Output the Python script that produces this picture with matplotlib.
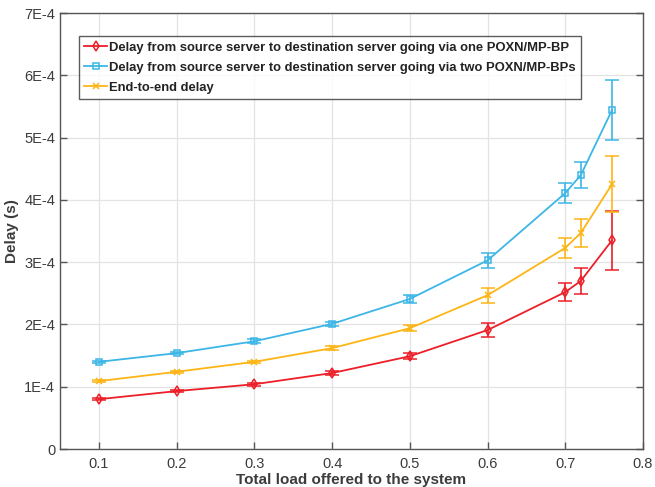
import matplotlib
matplotlib.use("Agg")
import matplotlib.pyplot as plt
from matplotlib.lines import Line2D
from matplotlib.ticker import FuncFormatter

plt.rcParams["font.family"] = ["Liberation Sans", "DejaVu Sans"]

# offered load and measured delays (seconds)
load = [0.1, 0.2, 0.3, 0.4, 0.5, 0.6, 0.7, 0.72, 0.76]

delay_one = [0.80e-4, 0.93e-4, 1.04e-4, 1.22e-4, 1.49e-4, 1.91e-4, 2.52e-4, 2.70e-4, 3.35e-4]
err_one = [0.02e-4, 0.02e-4, 0.02e-4, 0.03e-4, 0.05e-4, 0.11e-4, 0.15e-4, 0.21e-4, 0.47e-4]

delay_two = [1.40e-4, 1.54e-4, 1.73e-4, 2.01e-4, 2.41e-4, 3.03e-4, 4.11e-4, 4.40e-4, 5.44e-4]
err_two = [0.02e-4, 0.02e-4, 0.03e-4, 0.03e-4, 0.06e-4, 0.12e-4, 0.16e-4, 0.21e-4, 0.48e-4]

delay_e2e = [1.09e-4, 1.24e-4, 1.40e-4, 1.62e-4, 1.94e-4, 2.47e-4, 3.23e-4, 3.47e-4, 4.25e-4]
err_e2e = [0.02e-4, 0.02e-4, 0.02e-4, 0.03e-4, 0.05e-4, 0.12e-4, 0.16e-4, 0.22e-4, 0.45e-4]

labels = [
    "Delay from source server to destination server going via one POXN/MP-BP",
    "Delay from source server to destination server going via two POXN/MP-BPs",
    "End-to-end delay",
]

RED = "#EC1F28"
BLUE = "#3CB6E6"
YELLOW = "#FDB515"

fig = plt.figure(figsize=(6.55, 4.87), dpi=100)
ax = fig.add_axes([0.0916, 0.078, 0.8901, 0.895])

series = [
    (delay_one, err_one, RED, "d", labels[0]),
    (delay_two, err_two, BLUE, "s", labels[1]),
    (delay_e2e, err_e2e, YELLOW, "x", labels[2]),
]
handles = []
for y, e, c, m, lab in series:
    ax.errorbar(load, y, yerr=e, color=c, lw=1.3, marker=m, markersize=5,
                markerfacecolor="none", markeredgecolor=c, markeredgewidth=1.1,
                capsize=5, elinewidth=1.2, capthick=1.2)
    handles.append(Line2D([], [], color=c, lw=1.3, marker=m, markersize=5,
                          markerfacecolor="none", markeredgewidth=1.1, label=lab))

ax.set_xlim(0.05, 0.8)
ax.set_ylim(0, 7e-4)
ax.set_xticks([0.1, 0.2, 0.3, 0.4, 0.5, 0.6, 0.7, 0.8])
ax.set_yticks([i * 1e-4 for i in range(8)])
ax.yaxis.set_major_formatter(FuncFormatter(lambda v, p: "0" if v == 0 else f"{round(v * 1e4)}E-4"))

ax.grid(True, color="#e3e3e3", lw=0.9)
ax.set_axisbelow(True)
for s in ax.spines.values():
    s.set_color("#555555")
    s.set_linewidth(1.0)
ax.tick_params(direction="in", length=5, width=1.0, color="#555555",
               labelcolor="#3c3c3c", labelsize=10.5, top=False, right=True)
ax.tick_params(axis="x", pad=6)

ax.set_xlabel("Total load offered to the system", fontsize=11, fontweight="bold",
              color="#3c3c3c", labelpad=1)
ax.set_ylabel("Delay (s)", fontsize=11, fontweight="bold", color="#3c3c3c", labelpad=4)

leg = ax.legend(handles=handles, loc="upper left", bbox_to_anchor=(0.033, 0.947),
                prop={"weight": "bold", "size": 9.4}, frameon=True, fancybox=False,
                handlelength=1.7, handletextpad=0.2, borderpad=0.4, labelspacing=0.6,
                borderaxespad=0)
leg.get_frame().set_edgecolor("#333333")
leg.get_frame().set_linewidth(1.0)
for t in leg.get_texts():
    t.set_color("#222222")

fig.savefig("out.png", dpi=100)
